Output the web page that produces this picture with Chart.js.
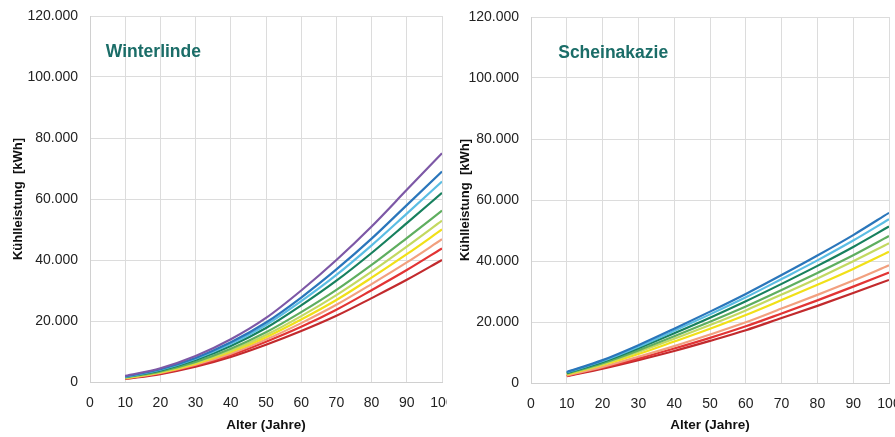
<!DOCTYPE html>
<html>
<head>
<meta charset="utf-8">
<script src="https://cdn.jsdelivr.net/npm/chart.js@4/dist/chart.umd.min.js"></script>
<style>
  body { margin: 0; background: #fff; }
  .box { position: absolute; top: 0; height: 437px; }
  #left { left: 0; width: 447px; }
  #right { left: 447px; width: 448px; }
</style>
</head>
<body>
<div class="box" id="left"><canvas id="chartLeft"></canvas></div>
<div class="box" id="right"><canvas id="chartRight"></canvas></div>
<script>
// ages on the x axis
const ages = [10, 20, 30, 40, 50, 60, 70, 80, 90, 100];
const xTicks = [0, 10, 20, 30, 40, 50, 60, 70, 80, 90, 100];
const yTicks = [0, 20000, 40000, 60000, 80000, 100000, 120000];
const yTickLabels = ['0', '20.000', '40.000', '60.000', '80.000', '100.000', '120.000'];

const lineColors = ['#7d58a6', '#2a76bb', '#5bbde3', '#17805e', '#5fae5f', '#c3d961', '#f1e018', '#f2a07f', '#e23434', '#c22a2d'];

// Winterlinde, kWh (thousands)
const linde1 = [2.0, 4.5, 8.5, 14.0, 21.0, 30.0, 40.0, 51.0, 63.0, 75.0];
const linde2 = [1.8, 4.2, 7.9, 13.0, 19.5, 27.7, 36.9, 47.0, 58.0, 69.0];
const linde3 = [1.7, 4.0, 7.6, 12.5, 18.7, 26.5, 35.1, 44.8, 55.2, 65.7];
const linde4 = [1.6, 3.8, 7.2, 11.8, 17.7, 25.1, 33.2, 42.3, 52.1, 62.0];
const linde5 = [1.5, 3.5, 6.6, 10.9, 16.3, 22.9, 30.2, 38.4, 47.2, 56.2];
const linde6 = [1.4, 3.3, 6.3, 10.3, 15.4, 21.6, 28.5, 36.2, 44.4, 52.9];
const linde7 = [1.3, 3.1, 6.0, 9.9, 14.7, 20.5, 26.9, 34.2, 41.9, 50.0];
const linde8 = [1.2, 3.0, 5.7, 9.3, 13.9, 19.3, 25.3, 32.1, 39.2, 46.8];
const linde9 = [1.1, 2.8, 5.4, 8.8, 13.2, 18.1, 23.7, 30.1, 36.7, 43.8];
const linde10 = [1.0, 2.6, 5.0, 8.2, 12.2, 16.7, 21.7, 27.5, 33.5, 40.0];

// Scheinakazie, kWh (thousands)
const akazie1 = [3.6, 7.5, 12.4, 17.8, 23.4, 29.2, 35.4, 41.8, 48.5, 55.8];
const akazie2 = [3.5, 7.2, 11.9, 17.1, 22.5, 28.1, 34.1, 40.2, 46.7, 53.7];
const akazie3 = [3.3, 6.9, 11.4, 16.3, 21.4, 26.8, 32.5, 38.4, 44.6, 51.3];
const akazie4 = [3.1, 6.5, 10.7, 15.3, 20.1, 25.1, 30.5, 36.1, 41.9, 48.2];
const akazie5 = [3.0, 6.2, 10.2, 14.5, 19.0, 23.8, 29.0, 34.3, 39.9, 45.8];
const akazie6 = [2.8, 5.9, 9.5, 13.6, 17.8, 22.3, 27.2, 32.2, 37.4, 43.0];
const akazie7 = [2.5, 5.3, 8.6, 12.1, 15.9, 19.9, 24.4, 28.9, 33.6, 38.6];
const akazie8 = [2.35, 5.0, 8.0, 11.3, 14.8, 18.6, 22.8, 27.1, 31.6, 36.2];
const akazie9 = [2.2, 4.7, 7.5, 10.5, 13.8, 17.3, 21.3, 25.3, 29.5, 33.8];

const lindeSeries = [linde1, linde2, linde3, linde4, linde5, linde6, linde7, linde8, linde9, linde10];
const akazieSeries = [akazie1, akazie2, akazie3, akazie4, akazie5, akazie6, akazie7, akazie8, akazie9];

const fontFamily = '"Liberation Sans", Arial, sans-serif';

// draws the species name inside the plot
const speciesLabel = {
    id: 'speciesLabel',
    afterDraw(chart, args, opts) {
        const ctx = chart.ctx;
        const x = chart.scales.x.getPixelForValue(opts.atX);
        const y = chart.scales.y.getPixelForValue(opts.atY);
        ctx.save();
        ctx.font = 'bold 17.5px ' + fontFamily;
        ctx.fillStyle = '#1b6d68';
        ctx.textBaseline = 'middle';
        ctx.fillText(opts.text, x, y);
        ctx.restore();
    }
};

function makeChart(canvasId, series, colors, name, labelX, yWidth, xHeight, pad) {
    const datasets = series.map((vals, i) => ({
        data: vals.map((v, j) => ({ x: ages[j], y: v * 1000 })),
        borderColor: colors[i],
        borderWidth: 2.2,
        pointRadius: 0,
        fill: false,
        cubicInterpolationMode: 'monotone'
    }));
    return new Chart(document.getElementById(canvasId), {
        type: 'line',
        data: { datasets: datasets },
        plugins: [speciesLabel],
        options: {
            responsive: true,
            maintainAspectRatio: false,
            animation: false,
            layout: { padding: pad },
            plugins: {
                legend: { display: false },
                tooltip: { enabled: false },
                speciesLabel: { text: name, atX: labelX, atY: 108000 }
            },
            scales: {
                x: {
                    type: 'linear', min: 0, max: 100,
                    afterBuildTicks: s => { s.ticks = xTicks.map(v => ({ value: v })); },
                    grid: { color: '#dcdcdc', drawTicks: false },
                    border: { color: '#d0d0d0' },
                    ticks: { color: '#222', font: { family: fontFamily, size: 14 }, padding: 13, maxRotation: 0 },
                    title: { display: true, text: 'Alter (Jahre)', color: '#111', font: { family: fontFamily, size: 13.5, weight: 'bold' }, padding: { top: 3 } },
                    afterFit: s => { s.height = xHeight; s.paddingLeft = 0; s.paddingRight = 0; }
                },
                y: {
                    min: 0, max: 120000,
                    afterBuildTicks: s => { s.ticks = yTicks.map(v => ({ value: v })); },
                    grid: { color: '#dcdcdc', drawTicks: false },
                    border: { color: '#d0d0d0' },
                    ticks: { color: '#222', font: { family: fontFamily, size: 14 }, padding: 12,
                             callback: v => yTickLabels[yTicks.indexOf(v)] },
                    title: { display: true, text: 'Kühlleistung  [kWh]', color: '#111', font: { family: fontFamily, size: 13, weight: 'bold' }, padding: { top: 11, bottom: 0 } },
                    afterFit: s => { s.width = yWidth; s.paddingTop = 0; s.paddingBottom = 0; }
                }
            }
        }
    });
}

makeChart('chartLeft', lindeSeries, lineColors, 'Winterlinde', 4.5, 90, 55, { left: 0, right: 5, top: 16, bottom: 0 });
makeChart('chartRight', akazieSeries, lineColors.slice(1), 'Scheinakazie', 7.6, 84, 54, { left: 0, right: 6, top: 17, bottom: 0 });
</script>
</body>
</html>
